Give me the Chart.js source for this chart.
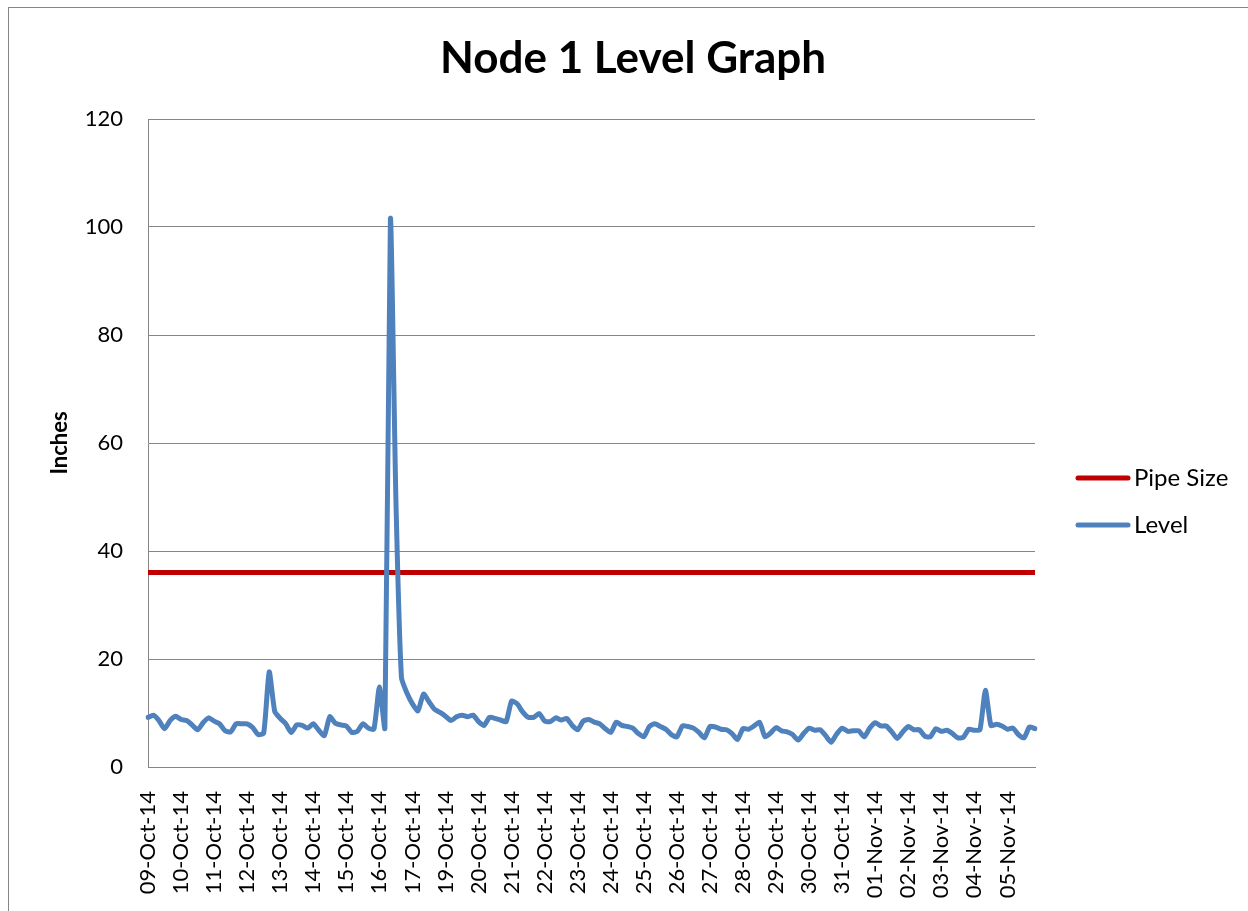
<!DOCTYPE html>
<html>
<head>
<meta charset="utf-8">
<title>Node 1 Level Graph</title>
<script src="https://cdn.jsdelivr.net/npm/chart.js@4.4.1/dist/chart.umd.min.js"></script>
<style>
  html, body { margin: 0; padding: 0; background: #fff; }
  canvas { display: block; }
</style>
</head>
<body>
<canvas id="levelChart" width="1248" height="911"></canvas>
<script>
// date labels shown on the x axis (one every 6 samples)
const dateTicks = [
  "09-Oct-14", "10-Oct-14", "11-Oct-14", "12-Oct-14", "13-Oct-14", "14-Oct-14",
  "15-Oct-14", "16-Oct-14", "17-Oct-14", "19-Oct-14", "20-Oct-14", "21-Oct-14",
  "22-Oct-14", "23-Oct-14", "24-Oct-14", "25-Oct-14", "26-Oct-14", "27-Oct-14",
  "28-Oct-14", "29-Oct-14", "30-Oct-14", "31-Oct-14", "01-Nov-14", "02-Nov-14",
  "03-Nov-14", "04-Nov-14", "05-Nov-14",
];
const samplesPerTick = 6;

// level readings (inches)
const level = [
  9.2, 9.6, 8.6, 7.1, 8.6, 9.4, 8.8, 8.6, 7.8, 6.9,
  8.2, 9.1, 8.5, 8.0, 6.7, 6.5, 8.0, 8.0, 8.0, 7.3,
  6.0, 6.3, 17.6, 10.3, 9.0, 8.0, 6.4, 7.8, 7.7, 7.2,
  8.0, 6.8, 5.8, 9.3, 8.1, 7.8, 7.6, 6.4, 6.6, 8.0,
  7.2, 7.0, 14.8, 7.2, 101.5, 49.4, 16.6, 13.7, 11.7, 10.4,
  13.5, 12.1, 10.7, 10.1, 9.4, 8.6, 9.3, 9.6, 9.3, 9.6,
  8.4, 7.7, 9.2, 9.0, 8.7, 8.4, 12.2, 11.7, 10.2, 9.2,
  9.2, 9.9, 8.5, 8.4, 9.1, 8.7, 9.0, 7.7, 6.9, 8.5,
  8.8, 8.3, 8.0, 7.1, 6.4, 8.3, 7.7, 7.5, 7.2, 6.2,
  5.6, 7.5, 8.0, 7.5, 7.0, 6.0, 5.6, 7.6, 7.5, 7.2,
  6.4, 5.4, 7.5, 7.4, 7.0, 6.9, 6.2, 5.1, 7.1, 7.0,
  7.6, 8.3, 5.6, 6.3, 7.3, 6.7, 6.5, 6.0, 5.0, 6.2,
  7.2, 6.8, 6.9, 5.8, 4.6, 6.1, 7.2, 6.6, 6.7, 6.7,
  5.6, 7.2, 8.2, 7.6, 7.6, 6.5, 5.3, 6.5, 7.5, 6.9,
  6.9, 5.7, 5.6, 7.1, 6.6, 6.8, 6.2, 5.4, 5.5, 7.0,
  6.8, 6.9, 14.2, 7.7, 7.9, 7.6, 7.0, 7.2, 6.0, 5.4,
  7.4, 7.1,
];

const pipeSize = 36;

const FONT = "Lato, 'Open Sans', sans-serif";
const GRID = "#868686";

const labels = level.map((_, i) =>
  i % samplesPerTick === 0 ? dateTicks[i / samplesPerTick] || "" : ""
);

// outer frame, title and legend drawn like the spreadsheet chart
const excelFrame = {
  id: "excelFrame",
  beforeDraw(chart) {
    const { ctx, width, height } = chart;
    ctx.save();
    ctx.fillStyle = "#fff";
    ctx.fillRect(0, 0, width, height);
    ctx.strokeStyle = GRID;
    ctx.lineWidth = 1;
    ctx.strokeRect(8.5, 7.5, width + 20, height + 20);
    ctx.restore();
  },
  afterDraw(chart) {
    const { ctx, chartArea } = chart;
    ctx.save();
    ctx.fillStyle = "#000";
    ctx.font = "bold 44px " + FONT;
    ctx.textAlign = "center";
    ctx.textBaseline = "middle";
    ctx.fillText("Node 1 Level Graph", 633, 59);

    // legend
    const x = chartArea.right + 41;
    let y = 478;
    ctx.font = "24px " + FONT;
    ctx.textAlign = "left";
    chart.data.datasets.forEach((ds) => {
      ctx.strokeStyle = ds.borderColor;
      ctx.lineWidth = 5;
      ctx.lineCap = "round";
      ctx.beginPath();
      ctx.moveTo(x + 2, y);
      ctx.lineTo(x + 52, y);
      ctx.stroke();
      ctx.fillText(ds.label, x + 58, y);
      y += 47;
    });
    ctx.restore();
  },
};

new Chart(document.getElementById("levelChart"), {
  type: "line",
  data: {
    labels,
    datasets: [
      {
        label: "Pipe Size",
        data: level.map(() => pipeSize),
        borderColor: "#C00000",
        borderWidth: 5,
        pointRadius: 0,
        order: 1,
      },
      {
        label: "Level",
        data: level,
        borderColor: "#4F81BD",
        borderWidth: 5,
        borderJoinStyle: "round",
        borderCapStyle: "round",
        tension: 0.2,
        pointRadius: 0,
        order: 0,
      },
    ],
  },
  options: {
    responsive: false,
    animation: false,
    devicePixelRatio: 1,
    layout: { padding: { top: 119, right: 213, bottom: 0, left: 0 } },
    plugins: {
      legend: { display: false },
      title: { display: false },
      tooltip: { enabled: false },
    },
    scales: {
      x: {
        grid: { display: false },
        border: { display: true, color: GRID, width: 1 },
        ticks: {
          autoSkip: false,
          minRotation: 90,
          maxRotation: 90,
          padding: 16,
          color: "#000",
          font: { family: FONT, size: 22 },
        },
        afterFit(scale) {
          scale.height = 144;
        },
      },
      y: {
        min: 0,
        max: 120,
        ticks: {
          stepSize: 20,
          padding: 25,
          color: "#000",
          font: { family: FONT, size: 22 },
        },
        grid: { color: GRID, lineWidth: 1, drawTicks: false },
        border: { display: true, color: GRID, width: 1 },
        title: {
          display: true,
          text: "Inches",
          color: "#000",
          font: { family: FONT, size: 22, weight: "bold" },
          padding: { top: 47, bottom: 0 },
        },
        afterFit(scale) {
          scale.width = 148;
        },
      },
    },
  },
  plugins: [excelFrame],
});
</script>
</body>
</html>
